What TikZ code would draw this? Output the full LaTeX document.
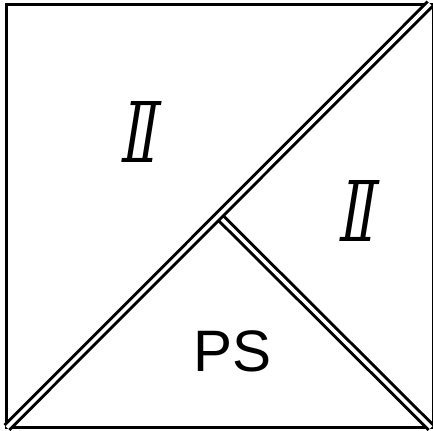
\documentclass[tikz,border=0pt]{standalone}
\usepackage{fontspec}
\setmainfont{Liberation Sans}
\newfontfamily\simbolos{DejaVu Sans}
\usetikzlibrary{calc}

\tikzset{
  borde/.style={line width=3bp},
  sutura/.style={line width=3bp, double=white, double distance=3.6bp},
  simbolo/.style={inner sep=0pt, transform shape, xslant=0.16, xscale=1.25, font=\simbolos\fontsize{84}{84}\selectfont},
}

\begin{document}
\begin{tikzpicture}[x=1bp,y=1bp]

        \useasboundingbox (0,0) rectangle (433,430);

        % Cuadrado exterior
        \draw[borde] (6.5,2.5) rectangle (433.5,425.5);

        % esquinas
        \coordinate (izqabajo) at (7,2.5);
        \coordinate (derarriba) at (430,426);
        \coordinate (derabajo) at (431,2.5);
        \coordinate (medio) at ($(izqabajo)!0.5!(derarriba)$);

        % diagonal y perpendicular dobles
        \draw[sutura] (medio) -- (derabajo);
        \draw[sutura] (izqabajo) -- (derarriba);

        % textos
        \node[simbolo] (sim1) at (142,298) {𝕀};
        \node[simbolo] (sim2) at (360,219) {𝕀};
        \node[anchor=base, inner sep=0pt, font=\fontsize{58.7}{60}\selectfont] (ps) at (232.4,58.3) {PS};

\end{tikzpicture}
\end{document}
